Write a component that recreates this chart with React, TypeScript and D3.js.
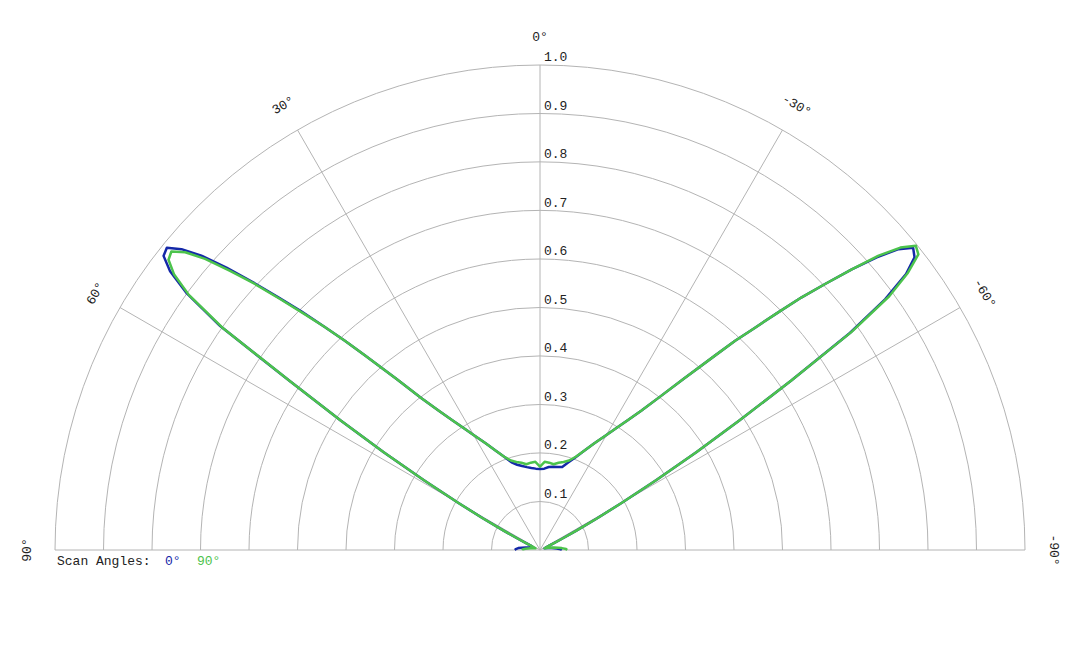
import React from "react";
import * as d3 from "d3";

// Angles in degrees: positive = left side of the chart (counter-clockwise from the top)
const ANGLES = [
  -90, -88, -85, -80, -75, -70, -65, -64, -63, -62, -61, -60, -59, -58, -57, -56, -55, -54, -53, -52, -51, -50,
  -49, -48, -47, -46, -45, -44, -43, -42, -40, -38, -36, -34, -32, -30, -27, -24, -21, -18, -15, -12, -9, -6, -3,
  0, 3, 6, 9, 12, 15, 18, 21, 24, 27, 30, 32, 34, 36, 38, 40, 42, 43, 44, 45, 46, 47, 48, 49, 50, 51, 52, 53, 54,
  55, 56, 57, 58, 59, 60, 61, 62, 63, 64, 65, 70, 75, 80, 85, 88, 90,
];

const SCAN_0 = [
  0.045, 0.043, 0.035, 0.025, 0.015, 0.01, 0.02, 0.03, 0.05, 0.085, 0.135, 0.195, 0.28, 0.38, 0.49, 0.625, 0.78,
  0.88, 0.945, 0.98, 0.99, 0.965, 0.92, 0.865, 0.805, 0.75, 0.69, 0.635, 0.59, 0.54, 0.46, 0.4, 0.355, 0.322, 0.296,
  0.274, 0.247, 0.224, 0.205, 0.19, 0.177, 0.175, 0.174, 0.172, 0.168,
  0.167, 0.168, 0.17, 0.173, 0.177, 0.182, 0.19, 0.206, 0.224, 0.247, 0.274, 0.296, 0.322, 0.355, 0.398, 0.46, 0.54,
  0.59, 0.64, 0.695, 0.75, 0.81, 0.87, 0.925, 0.965, 0.99, 0.985, 0.955, 0.9, 0.805, 0.62, 0.49, 0.38, 0.28, 0.195,
  0.135, 0.085, 0.05, 0.03, 0.02, 0.015, 0.02, 0.03, 0.045, 0.05, 0.052,
];

const SCAN_90 = [
  0.056, 0.054, 0.045, 0.03, 0.018, 0.01, 0.02, 0.03, 0.05, 0.085, 0.135, 0.195, 0.28, 0.38, 0.49, 0.625, 0.785,
  0.89, 0.95, 0.99, 0.997, 0.97, 0.925, 0.865, 0.805, 0.75, 0.69, 0.635, 0.59, 0.54, 0.46, 0.4, 0.355, 0.322, 0.296,
  0.274, 0.247, 0.224, 0.206, 0.194, 0.188, 0.184, 0.179, 0.181, 0.182,
  0.172, 0.182, 0.181, 0.179, 0.184, 0.188, 0.194, 0.206, 0.224, 0.247, 0.274, 0.296, 0.322, 0.355, 0.398, 0.46,
  0.54, 0.59, 0.64, 0.69, 0.745, 0.805, 0.86, 0.915, 0.955, 0.978, 0.972, 0.945, 0.895, 0.8, 0.62, 0.49, 0.38, 0.28,
  0.195, 0.135, 0.085, 0.05, 0.03, 0.02, 0.01, 0.015, 0.02, 0.03, 0.036, 0.037,
];

const RING_TICKS = [0.1, 0.2, 0.3, 0.4, 0.5, 0.6, 0.7, 0.8, 0.9, 1.0];
const SPOKE_ANGLES = [-90, -60, -30, 0, 30, 60, 90];
const SPOKE_LABELS = ["-90°", "-60°", "-30°", "0°", "30°", "60°", "90°"];

const SERIES = [
  { name: "0°", values: SCAN_0, color: "#1428a8" },
  { name: "90°", values: SCAN_90, color: "#4cc34c" },
];

const W = 1080;
const H = 648;
const CX = 540;
const CY = 550;
const R = 485;
const FONT = "'Liberation Mono', 'Courier New', monospace";

export default function App() {
  const r = d3.scaleLinear().domain([0, 1]).range([0, R]);
  const toRad = (deg: number) => (-deg * Math.PI) / 180; // d3 radial angle: clockwise from top

  const ringPath = (v: number) => {
    const p = d3.path();
    p.moveTo(CX - r(v), CY);
    p.arc(CX, CY, r(v), Math.PI, 2 * Math.PI);
    return p.toString();
  };

  const line = d3
    .lineRadial<number>()
    .angle((_, i) => toRad(ANGLES[i]))
    .radius((d) => r(d))
    .curve(d3.curveLinear);

  const labelR = r(1) + 28;

  return (
    <svg
      width={W}
      height={H}
      style={{ position: "absolute", left: 0, top: 0, background: "#fff" }}
      fontFamily={FONT}
    >
      <g>
        {RING_TICKS.map((v) => (
          <path key={v} d={ringPath(v)} fill="none" stroke="#b4b4b4" strokeWidth={1} />
        ))}
        {SPOKE_ANGLES.map((a) => {
          const t = toRad(a);
          return (
            <line
              key={a}
              x1={CX}
              y1={CY}
              x2={CX + r(1) * Math.sin(t)}
              y2={CY - r(1) * Math.cos(t)}
              stroke="#b4b4b4"
              strokeWidth={1}
            />
          );
        })}
        {RING_TICKS.map((v) => (
          <text key={v} x={CX + 4} y={CY - r(v) - 4} fontSize={13} fill="#222">
            {v.toFixed(1)}
          </text>
        ))}
        {SPOKE_ANGLES.map((a, i) => {
          const t = toRad(a);
          const x = CX + labelR * Math.sin(t);
          const y = CY - labelR * Math.cos(t);
          return (
            <text
              key={a}
              x={x}
              y={y}
              fontSize={13}
              fill="#222"
              textAnchor="middle"
              dominantBaseline="central"
              transform={`rotate(${-a} ${x} ${y})`}
            >
              {SPOKE_LABELS[i]}
            </text>
          );
        })}
      </g>
      <g transform={`translate(${CX},${CY})`}>
        {SERIES.map((s) => (
          <path
            key={s.name}
            d={line(s.values) || ""}
            fill="none"
            stroke={s.color}
            strokeWidth={2.5}
            strokeLinejoin="round"
          />
        ))}
      </g>
      <g fontSize={13}>
        <text x={57} y={565} fill="#222">
          Scan Angles:
        </text>
        <text x={165} y={565} fill={SERIES[0].color}>
          {SERIES[0].name}
        </text>
        <text x={197} y={565} fill={SERIES[1].color}>
          {SERIES[1].name}
        </text>
      </g>
    </svg>
  );
}
